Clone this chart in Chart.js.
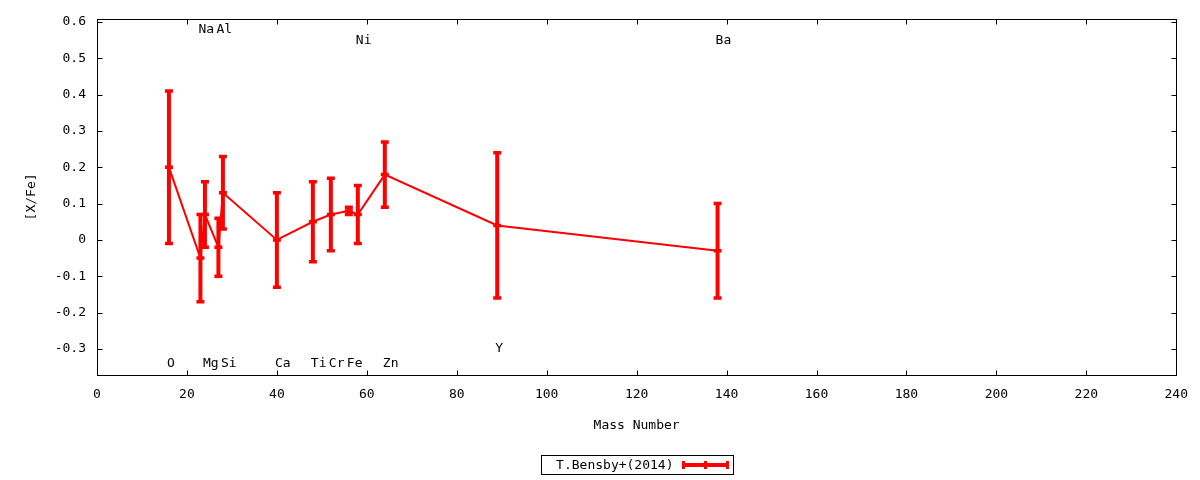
<!DOCTYPE html>
<html>
<head>
<meta charset="utf-8">
<script src="https://cdn.jsdelivr.net/npm/chart.js@4/dist/chart.umd.min.js"></script>
<style>
  html, body { margin: 0; padding: 0; background: #fff; }
  #wrap { width: 1200px; height: 480px; }
</style>
</head>
<body>
<div id="wrap"><canvas id="abundanceCanvas" width="1200" height="480"></canvas></div>
<script>
// element data
const elements = ['O', 'Na', 'Mg', 'Al', 'Si', 'Ca', 'Ti', 'Cr', 'Fe', 'Ni', 'Zn', 'Y', 'Ba'];
const massNumbers = [16, 23, 24, 27, 28, 40, 48, 52, 56, 58, 64, 89, 138];
const abundances = [0.20, -0.05, 0.07, -0.02, 0.13, 0.00, 0.05, 0.07, 0.08, 0.07, 0.18, 0.04, -0.03];
const errors = [0.21, 0.12, 0.09, 0.08, 0.10, 0.13, 0.11, 0.10, 0.01, 0.08, 0.09, 0.20, 0.13];
const labelYs = [-0.34, 0.58, -0.34, 0.58, -0.34, -0.34, -0.34, -0.34, -0.34, 0.55, -0.34, -0.30, 0.55];

const xTicks = [0, 20, 40, 60, 80, 100, 120, 140, 160, 180, 200, 220, 240];
const yTicks = [-0.3, -0.2, -0.1, 0, 0.1, 0.2, 0.3, 0.4, 0.5, 0.6];
const seriesName = 'T.Bensby+(2014)';

const RED = '#ff0000';
const FONT = "'DejaVu Sans Mono', monospace";

// error bars, element labels, gnuplot style border and inward ticks
const gnuplotPlugin = {
    id: 'gnuplotStyle',
    afterDatasetsDraw(chart) {
        const ctx = chart.ctx;
        const xs = chart.scales.x, ys = chart.scales.y;
        ctx.save();
        ctx.strokeStyle = RED;
        massNumbers.forEach((m, i) => {
            const px = xs.getPixelForValue(m);
            const top = ys.getPixelForValue(abundances[i] + errors[i]);
            const bot = ys.getPixelForValue(abundances[i] - errors[i]);
            ctx.lineWidth = 4;
            ctx.beginPath();
            ctx.moveTo(px, top);
            ctx.lineTo(px, bot);
            ctx.stroke();
            ctx.lineWidth = 3.5;
            ctx.beginPath();
            ctx.moveTo(px - 4, top); ctx.lineTo(px + 4, top);
            ctx.moveTo(px - 4, bot); ctx.lineTo(px + 4, bot);
            ctx.stroke();
        });

        // element names
        ctx.fillStyle = '#000';
        ctx.font = '13px ' + FONT;
        ctx.textAlign = 'left';
        ctx.textBaseline = 'middle';
        elements.forEach((el, i) => {
            ctx.fillText(el, xs.getPixelForValue(massNumbers[i]) - 2, ys.getPixelForValue(labelYs[i]));
        });
        ctx.restore();
    },
    afterDraw(chart) {
        const ctx = chart.ctx;
        const a = chart.chartArea;
        const xs = chart.scales.x, ys = chart.scales.y;
        const L = Math.round(a.left) + 0.5, R = Math.round(a.right) + 0.5;
        const T = Math.round(a.top) + 0.5, B = Math.round(a.bottom) + 0.5;
        ctx.save();
        ctx.strokeStyle = '#000';
        ctx.lineWidth = 1;
        ctx.strokeRect(L, T, R - L, B - T);
        ctx.beginPath();
        xTicks.forEach(v => {
            const px = Math.round(xs.getPixelForValue(v)) + 0.5;
            ctx.moveTo(px, B); ctx.lineTo(px, B - 5);
            ctx.moveTo(px, T); ctx.lineTo(px, T + 5);
        });
        yTicks.forEach(v => {
            const py = Math.round(ys.getPixelForValue(v)) + 0.5;
            ctx.moveTo(L, py); ctx.lineTo(L + 5, py);
            ctx.moveTo(R, py); ctx.lineTo(R - 5, py);
        });
        ctx.stroke();

        // legend box under the chart
        const cx = (a.left + a.right) / 2;
        const boxL = Math.round(cx - 96) + 0.5, boxT = chart.height - 25 + 0.5;
        ctx.strokeRect(boxL, boxT, 192, 19);
        ctx.fillStyle = '#000';
        ctx.font = '13px ' + FONT;
        ctx.textAlign = 'right';
        ctx.textBaseline = 'middle';
        ctx.fillText(seriesName, boxL + 132, boxT + 10);
        const sy = boxT + 9.5;
        const s0 = boxL + 142, s1 = boxL + 186, sm = (s0 + s1) / 2;
        ctx.strokeStyle = RED;
        ctx.lineWidth = 4;
        ctx.beginPath(); ctx.moveTo(s0, sy); ctx.lineTo(s1, sy); ctx.stroke();
        ctx.lineWidth = 3;
        ctx.beginPath();
        ctx.moveTo(s0, sy - 4); ctx.lineTo(s0, sy + 4);
        ctx.moveTo(s1, sy - 4); ctx.lineTo(s1, sy + 4);
        ctx.moveTo(sm, sy - 4); ctx.lineTo(sm, sy + 4);
        ctx.stroke();
        ctx.restore();
    }
};

const ctx = document.getElementById('abundanceCanvas').getContext('2d');
const abundanceChart = new Chart(ctx, {
    type: 'line',
    data: {
        datasets: [{
            label: seriesName,
            data: massNumbers.map((m, i) => ({ x: m, y: abundances[i] })),
            borderColor: RED,
            backgroundColor: RED,
            borderWidth: 2,
            tension: 0,
            pointStyle: 'line',
            pointRadius: 4,
            pointBorderWidth: 3.5,
            pointBorderColor: RED,
            pointHoverRadius: 4
        }]
    },
    options: {
        responsive: false,
        animation: false,
        devicePixelRatio: 1,
        layout: { padding: { top: 17, right: 23, left: 0, bottom: 45 } },
        plugins: {
            legend: { display: false },
            tooltip: { enabled: false }
        },
        scales: {
            x: {
                type: 'linear',
                min: 0,
                max: 240,
                afterFit: scale => { scale.height = 60; },
                afterBuildTicks: scale => { scale.ticks = xTicks.map(v => ({ value: v })); },
                grid: { display: false, drawTicks: false },
                border: { display: false },
                ticks: { padding: 12, color: '#000', font: { family: FONT, size: 13 }, callback: v => String(v) },
                title: { display: true, text: 'Mass Number', color: '#000', font: { family: FONT, size: 13 }, padding: { top: 0, bottom: 2 } }
            },
            y: {
                type: 'linear',
                min: -0.372,
                max: 0.609,
                afterFit: scale => { scale.width = 97; },
                afterBuildTicks: scale => { scale.ticks = yTicks.map(v => ({ value: v })); },
                grid: { display: false, drawTicks: false },
                border: { display: false },
                ticks: { padding: 11, color: '#000', font: { family: FONT, size: 13 }, callback: v => String(v) },
                title: { display: true, text: '[X/Fe]', color: '#000', font: { family: FONT, size: 13 }, padding: { top: 24, bottom: 0 } }
            }
        }
    },
    plugins: [gnuplotPlugin]
});
</script>
</body>
</html>
